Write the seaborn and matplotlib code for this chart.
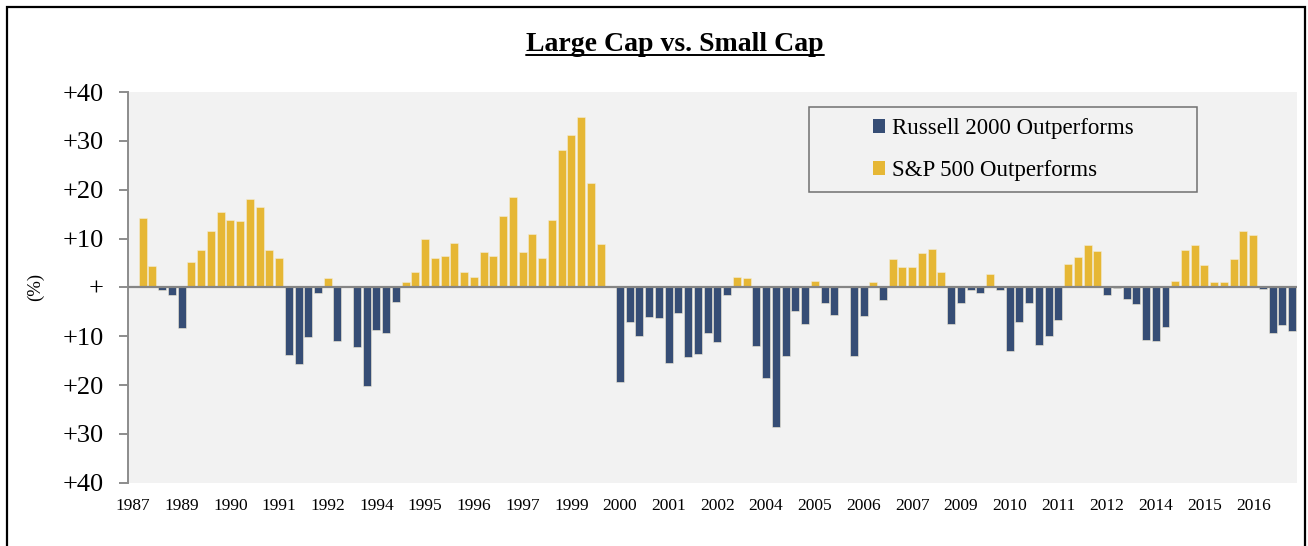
import numpy as np
import pandas as pd
import matplotlib
matplotlib.use('Agg')
import matplotlib.pyplot as plt
from matplotlib.patches import Patch, Rectangle
from matplotlib.lines import Line2D
import seaborn as sns

# Quarterly return spread, S&P 500 minus Russell 2000 (%), 1987-2016
spread = [
    0.0, 14.1, 4.3, -0.6, -1.5, -8.3, 5.1, 7.7, 11.5, 15.4,
    13.7, 13.5, 18.0, 16.5, 7.7, 6.1, -13.9, -15.6, -10.1, -1.2,
    1.9, -10.9, 0.3, -12.2, -20.1, -8.7, -9.4, -2.9, 1.1, 3.2,
    10.0, 6.0, 6.4, 9.1, 3.1, 2.1, 7.2, 6.5, 14.7, 18.4,
    7.2, 11.0, 6.0, 13.7, 28.1, 31.2, 34.8, 21.3, 8.8, 0.0,
    -19.3, -7.0, -10.0, -6.0, -6.3, -15.4, -5.3, -14.3, -13.7, -9.4,
    -11.1, -1.6, 2.2, 1.9, -12.0, -18.5, -28.6, -14.1, -4.8, -7.4,
    1.3, -3.1, -5.7, 0.3, -14.1, -5.9, 1.0, -2.5, 5.9, 4.2,
    4.1, 7.1, 7.9, 3.1, -7.5, -3.1, -0.5, -1.1, 2.7, -0.6,
    -13.0, -7.0, -3.1, -11.7, -10.0, -6.6, 4.8, 6.3, 8.7, 7.5,
    -1.6, -0.2, -2.3, -3.4, -10.7, -10.9, -8.2, 1.2, 7.7, 8.7,
    4.5, 1.0, 1.0, 5.9, 11.5, 10.7, -0.3, -9.4, -7.7, -8.9,
]
year_labels = ['1987', '1989', '1990', '1991', '1992', '1994', '1995', '1996',
               '1997', '1999', '2000', '2001', '2002', '2004', '2005', '2006',
               '2007', '2009', '2010', '2011', '2012', '2014', '2015', '2016']
y_ticks = [40, 30, 20, 10, 0, -10, -20, -30, -40]
y_tick_labels = ['+40', '+30', '+20', '+10', '+', '+10', '+20', '+30', '+40']
series_names = ['Russell 2000 Outperforms', 'S&P 500 Outperforms']
colors = {'Russell 2000 Outperforms': '#364d75', 'S&P 500 Outperforms': '#e6b735'}

df = pd.DataFrame({'quarter': np.arange(len(spread)), 'spread': spread})
df['winner'] = np.where(df['spread'] < 0, series_names[0], series_names[1])

sns.set_style('white')
plt.rcParams['font.family'] = ['Liberation Serif', 'DejaVu Serif']
plt.rcParams['text.color'] = 'black'
plt.rcParams['axes.labelcolor'] = 'black'
plt.rcParams['xtick.color'] = 'black'
plt.rcParams['ytick.color'] = 'black'

fig = plt.figure(figsize=(13.08, 5.46), dpi=100)
ax = fig.add_axes([0.0979, 0.1159, 0.8937, 0.7156])
ax.set_facecolor('#f2f2f2')

sns.barplot(data=df, x='quarter', y='spread', hue='winner', hue_order=series_names,
            palette=colors, saturation=1, dodge=False, width=0.82,
            edgecolor='#f3ecd6', linewidth=0.4, legend=False, ax=ax)

ax.axhline(0, color='#858585', lw=1.6, zorder=3)
ax.set_ylim(-40, 40)
ax.set_xlim(-0.5, len(spread) - 0.5)
ax.set_yticks(y_ticks)
ax.set_yticklabels(y_tick_labels, fontsize=19)
ax.set_xticks(np.arange(0, len(spread), 5))
ax.set_xticklabels(year_labels, fontsize=12.5)
ax.tick_params(axis='y', length=6.5, width=1.4, color='#8c8c8c', labelcolor='black',
               pad=11, direction='out', left=True)
ax.tick_params(axis='x', length=0, pad=11, labelcolor='black')
ax.set_xlabel('')
ax.set_ylabel('(%)', fontsize=13.5, labelpad=13)

for s in ['top', 'right', 'bottom']:
    ax.spines[s].set_visible(False)
ax.spines['left'].set_color('#8c8c8c')
ax.spines['left'].set_linewidth(1.4)

# legend with boxed frame
ax.add_patch(Rectangle((0.5826, 0.744), 0.332, 0.2176, transform=ax.transAxes,
                       facecolor='none', edgecolor='#707070', lw=1.1, zorder=5))
handles = [Patch(facecolor=colors[n], edgecolor='none') for n in series_names]
ax.legend(handles, series_names, loc='center', bbox_to_anchor=(0.7486, 0.8528),
          frameon=False, fontsize=16.5, labelspacing=0.9, handlelength=0.55,
          handleheight=0.55, handletextpad=0.3)

# title, underlined
title = fig.text(0.516, 0.918, 'Large Cap vs. Small Cap', ha='center', va='center',
                 fontsize=20, fontweight='bold')
fig.canvas.draw()
bb = title.get_window_extent().transformed(fig.transFigure.inverted())
fig.add_artist(Line2D([bb.x0, bb.x1], [bb.y0 + 0.004, bb.y0 + 0.004], color='black', lw=1.4))

# outer frame
fig.add_artist(Rectangle((0.0054, -0.02), 0.9924, 1.0071, transform=fig.transFigure,
                         facecolor='none', edgecolor='black', lw=1.6))

fig.savefig('out.png', dpi=100)
